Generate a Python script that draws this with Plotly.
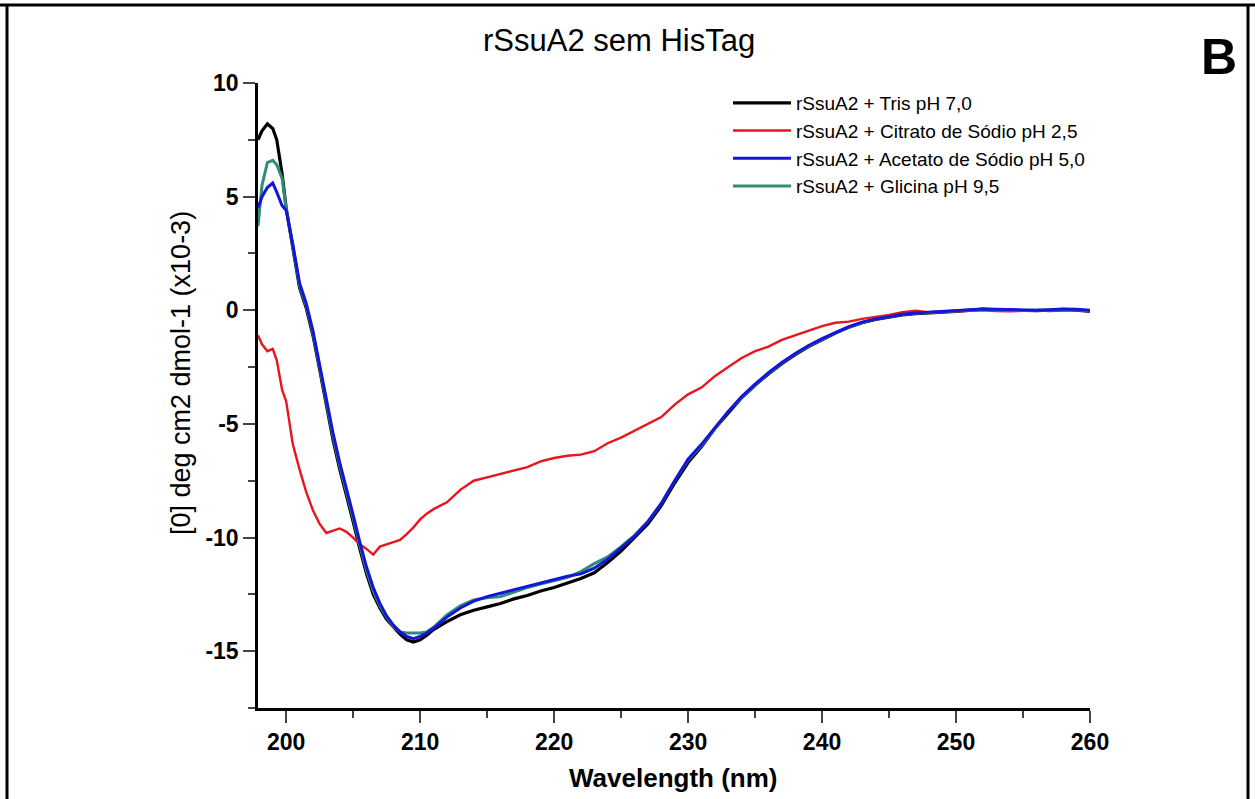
import plotly.graph_objects as go

wavelength = [197.9, 198.2, 198.6, 199.0, 199.3, 199.7,
              200.0, 200.5, 201.0, 201.5, 202.0, 202.5, 203.0, 203.5, 204.0, 204.5,
              205.0, 205.5, 206.0, 206.5, 207.0, 207.5, 208.0, 208.5, 209.0, 209.5, 210.0, 210.5,
              211, 212, 213, 214, 215, 216, 217, 218, 219, 220,
              221, 222, 223, 224, 225, 226, 227, 228, 229, 230,
              231, 232, 233, 234, 235, 236, 237, 238, 239, 240,
              241, 242, 243, 244, 245, 246, 247, 248, 249, 250,
              251, 252, 253, 254, 255, 256, 257, 258, 259, 260]

tris = [7.5, 7.9, 8.2, 8.0, 7.5, 6.0,
        4.5, 2.8, 1.0, 0.1, -1.1, -2.6, -4.1, -5.7, -7.0, -8.1,
        -9.3, -10.5, -11.6, -12.5, -13.1, -13.6, -13.95, -14.25, -14.5, -14.6, -14.5, -14.3,
        -14.05, -13.7, -13.4, -13.2, -13.05, -12.9, -12.7, -12.55, -12.35, -12.2,
        -12.0, -11.8, -11.55, -11.1, -10.6, -10.0, -9.4, -8.6, -7.6, -6.7,
        -6.0, -5.2, -4.5, -3.85, -3.3, -2.8, -2.35, -1.95, -1.6, -1.3,
        -1.0, -0.75, -0.55, -0.4, -0.3, -0.2, -0.15, -0.1, -0.08, -0.05,
        0.0, 0.05, 0.02, 0.0, -0.02, -0.02, 0.0, 0.03, 0.0, -0.05]

citrato = [-1.1, -1.5, -1.8, -1.7, -2.2, -3.5,
           -4.0, -5.9, -7.0, -8.0, -8.8, -9.4, -9.8, -9.7, -9.6, -9.75,
           -10.0, -10.3, -10.5, -10.75, -10.4, -10.3, -10.2, -10.1, -9.85, -9.55, -9.2, -8.95,
           -8.75, -8.45, -7.9, -7.5, -7.35, -7.2, -7.05, -6.9, -6.65, -6.5,
           -6.4, -6.35, -6.2, -5.85, -5.6, -5.3, -5.0, -4.7, -4.15, -3.7,
           -3.4, -2.9, -2.5, -2.1, -1.8, -1.6, -1.3, -1.1, -0.9, -0.7,
           -0.55, -0.5, -0.38, -0.3, -0.2, -0.08, -0.02, -0.1, -0.08, -0.05,
           -0.02, 0.0, -0.03, -0.05, -0.02, 0.0, -0.03, -0.02, 0.02, -0.05]

acetato = [4.5, 5.0, 5.4, 5.6, 5.2, 4.6,
           4.4, 2.9, 1.2, 0.3, -0.9, -2.4, -3.9, -5.4, -6.7, -7.8,
           -9.0, -10.2, -11.3, -12.2, -12.9, -13.45, -13.85, -14.15, -14.35, -14.45, -14.35, -14.2,
           -14.0, -13.5, -13.1, -12.8, -12.6, -12.45, -12.3, -12.15, -12.0, -11.85,
           -11.7, -11.6, -11.35, -10.95, -10.45, -9.95, -9.3, -8.5, -7.5, -6.55,
           -5.9, -5.15, -4.45, -3.8, -3.25, -2.75, -2.3, -1.9, -1.55, -1.25,
           -0.98, -0.72, -0.52, -0.38, -0.28, -0.18, -0.12, -0.08, -0.06, -0.02,
           0.02, 0.06, 0.04, 0.02, 0.0, 0.0, 0.02, 0.06, 0.04, 0.0]

glicina = [3.7, 5.5, 6.5, 6.6, 6.4, 5.8,
           4.5, 2.85, 1.1, 0.2, -1.0, -2.5, -4.0, -5.55, -6.85, -7.95,
           -9.15, -10.35, -11.45, -12.35, -13.0, -13.5, -13.9, -14.15, -14.2, -14.2, -14.2, -14.15,
           -13.95, -13.4, -13.0, -12.75, -12.65, -12.6, -12.4, -12.2, -12.05, -11.9,
           -11.75, -11.5, -11.15, -10.85, -10.4, -9.9, -9.3, -8.5, -7.5, -6.6,
           -5.95, -5.2, -4.45, -3.85, -3.28, -2.78, -2.32, -1.92, -1.58, -1.28,
           -0.99, -0.74, -0.54, -0.39, -0.29, -0.19, -0.13, -0.09, -0.07, -0.04,
           0.0, 0.04, 0.02, 0.0, -0.01, 0.0, 0.02, 0.04, 0.02, -0.03]

series_names = ["rSsuA2 + Tris pH 7,0", "rSsuA2 + Citrato de Sódio pH 2,5",
                "rSsuA2 + Acetato de Sódio pH 5,0", "rSsuA2 + Glicina pH 9,5"]
x_ticks = [200, 210, 220, 230, 240, 250, 260]
y_ticks = [-15, -10, -5, 0, 5, 10]
y_tick_labels = ["-15", "-10", "-5", "0", "5", "10"]

W, H = 1255, 799
L, R, T, B = 258, 1090, 83, 708


def px_x(p):
    return (p - L) / (R - L)


def px_y(p):
    return (B - p) / (B - T)


fig = go.Figure()
# draw order: black, red, green, blue (blue on top); legend order via legendrank
fig.add_trace(go.Scatter(x=wavelength, y=tris, mode="lines", name=series_names[0],
                         line=dict(color="#000000", width=3.2), legendrank=1))
fig.add_trace(go.Scatter(x=wavelength, y=citrato, mode="lines", name=series_names[1],
                         line=dict(color="#e8161c", width=2.4), legendrank=2))
fig.add_trace(go.Scatter(x=wavelength, y=glicina, mode="lines", name=series_names[3],
                         line=dict(color="#2f8c76", width=3), legendrank=4))
fig.add_trace(go.Scatter(x=wavelength, y=acetato, mode="lines", name=series_names[2],
                         line=dict(color="#1414dc", width=3), legendrank=3))

fig.update_layout(
    width=W, height=H,
    margin=dict(l=L, r=W - R, t=T, b=H - B, pad=0),
    paper_bgcolor="white", plot_bgcolor="white",
    font=dict(family="Arial, Liberation Sans, sans-serif", color="black"),
    showlegend=True,
    legend=dict(x=px_x(728), y=px_y(84), xanchor="left", yanchor="top",
                font=dict(size=19, family="Arial, Liberation Sans, sans-serif"),
                itemwidth=58, tracegroupgap=0, bgcolor="rgba(0,0,0,0)",
                traceorder="normal"),
    xaxis=dict(range=[197.9, 260], tickvals=x_ticks, ticks="outside", ticklen=12, tickwidth=2,
               showline=True, linecolor="black", linewidth=2.5, showgrid=False, zeroline=False,
               tickfont=dict(size=23, weight="bold"),
               minor=dict(dtick=5, tick0=200, ticks="outside", ticklen=7, tickwidth=2, showgrid=False)),
    yaxis=dict(range=[-17.5, 10], tickvals=y_ticks, ticktext=y_tick_labels, ticks="outside",
               ticklen=12, tickwidth=2,
               showline=True, linecolor="black", linewidth=2.5, showgrid=False, zeroline=False,
               tickfont=dict(size=23, weight="bold"),
               minor=dict(dtick=2.5, tick0=0, ticks="outside", ticklen=7, tickwidth=2, showgrid=False)),
)

# Titles and labels
fig.add_annotation(text="rSsuA2 sem HisTag", x=px_x(619), y=px_y(40), xref="paper", yref="paper",
                   showarrow=False, font=dict(size=31), xanchor="center", yanchor="middle")
fig.add_annotation(text="<b>B</b>", x=px_x(1219), y=px_y(57), xref="paper", yref="paper",
                   showarrow=False, font=dict(size=50), xanchor="center", yanchor="middle")
fig.add_annotation(text="[0] deg cm2 dmol-1 (x10-3)", x=px_x(181), y=px_y(373), xref="paper", yref="paper",
                   showarrow=False, font=dict(size=27), textangle=-90, xanchor="center", yanchor="middle")
fig.add_annotation(text="<b>Wavelength (nm)</b>", x=px_x(673), y=px_y(778), xref="paper", yref="paper",
                   showarrow=False, font=dict(size=26), xanchor="center", yanchor="middle")

# Outer frame lines
frame = dict(color="black", width=3)
fig.add_shape(type="line", xref="paper", yref="paper", x0=px_x(0), x1=px_x(W), y0=px_y(5), y1=px_y(5), line=frame)
fig.add_shape(type="line", xref="paper", yref="paper", x0=px_x(7), x1=px_x(7), y0=px_y(5), y1=px_y(H), line=frame)
fig.add_shape(type="line", xref="paper", yref="paper", x0=px_x(1248), x1=px_x(1248), y0=px_y(5), y1=px_y(H), line=frame)

fig.write_html("out.html")
